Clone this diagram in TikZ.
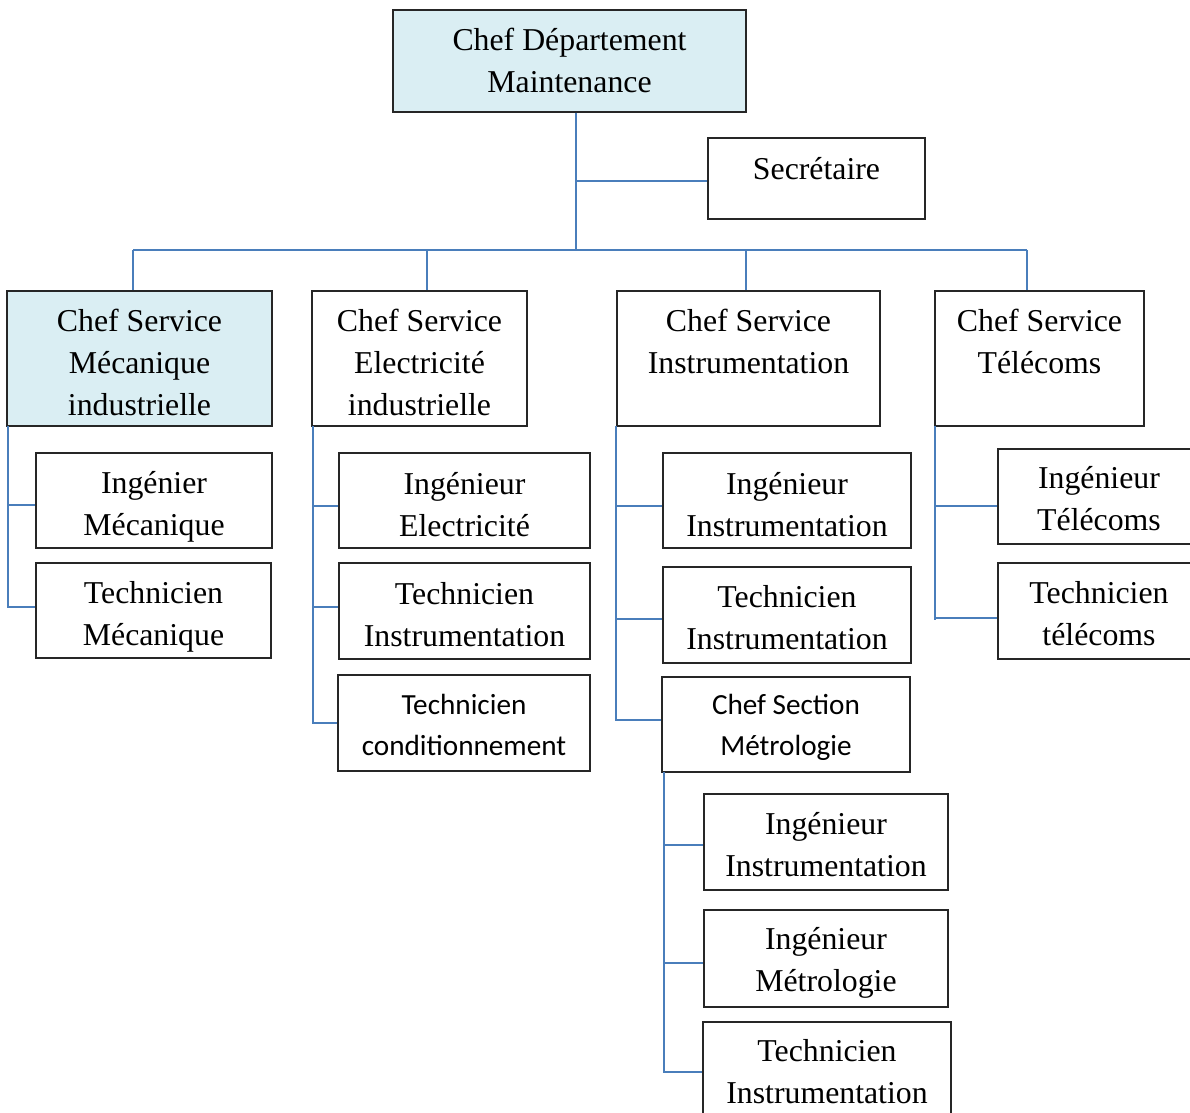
\documentclass[tikz,border=0pt]{standalone}
\usepackage{fontspec}
\setmainfont{Liberation Serif}
\newfontfamily\calibri{Carlito}
\usetikzlibrary{fit}

\definecolor{boxfill}{HTML}{DAEEF3}
\definecolor{linkblue}{HTML}{4A7EBB}
\definecolor{boxline}{HTML}{262626}

\tikzset{
  orgbox/.style={draw=boxline, line width=0.6pt, inner sep=0pt, rectangle},
  shadedbox/.style={orgbox, fill=boxfill},
  serifcap/.style={anchor=north, align=center, inner sep=0pt, yshift=-0.75pt,
    font=\fontsize{15.9}{21}\selectfont},
  sanscap/.style={anchor=north, align=center, inner sep=0pt, yshift=-0.75pt,
    font=\calibri\fontsize{14.6}{20.5}\selectfont},
  link/.style={draw=linkblue, line width=1.1pt},
}

% box from its top-left and bottom-right corners (pixel-like units)
\newcommand\orgnode[6]{\node[#6, fit={(#2,#3) (#4,#5)}] (#1) {};}

\begin{document}
\begin{tikzpicture}[x=0.5pt, y=-0.5pt]
\useasboundingbox (0,0) rectangle (1190,1113);

% ---- boxes ----
\orgnode{dep}{393}{10}{746}{112}{shadedbox}
\orgnode{sec}{708}{138}{925}{219}{orgbox}

\orgnode{csm}{7}{291}{272}{426}{shadedbox}
\orgnode{im}{36}{453}{272}{548}{orgbox}
\orgnode{tm}{36}{563}{271}{658}{orgbox}

\orgnode{cse}{312}{291}{527}{426}{orgbox}
\orgnode{ie}{339}{453}{590}{548}{orgbox}
\orgnode{tie}{339}{563}{590}{659}{orgbox}
\orgnode{tc}{338}{675}{590}{771}{orgbox}

\orgnode{csi}{617}{291}{880}{426}{orgbox}
\orgnode{ii}{663}{453}{911}{548}{orgbox}
\orgnode{tii}{663}{567}{911}{663}{orgbox}
\orgnode{sect}{662}{677}{910}{772}{orgbox}
\orgnode{mi}{704}{794}{948}{890}{orgbox}
\orgnode{mm}{704}{910}{948}{1007}{orgbox}
\orgnode{mt}{703}{1022}{951}{1125}{orgbox}

\orgnode{cst}{935}{291}{1144}{426}{orgbox}
\orgnode{it}{998}{449}{1200}{544}{orgbox}
\orgnode{tt}{998}{563}{1200}{659}{orgbox}

% ---- captions (placed by the baseline of their first line) ----
\node[serifcap] (dep-t) at (569.5,19.6) {\strut Chef Département\\Maintenance};
\node[serifcap] (sec-t) at (816.5,148.6) {\strut Secrétaire};

\node[serifcap] (csm-t) at (139.5,300.6) {\strut Chef Service\\Mécanique\\industrielle};
\node[serifcap] (im-t) at (154,462.6) {\strut Ingénier\\Mécanique};
\node[serifcap] (tm-t) at (153.5,572.6) {\strut Technicien\\Mécanique};

\node[serifcap] (cse-t) at (419.5,300.6) {\strut Chef Service\\Electricité\\industrielle};
\node[serifcap] (ie-t) at (464.5,463.6) {\strut Ingénieur\\Electricité};
\node[serifcap] (tie-t) at (464.5,573.6) {\strut Technicien\\Instrumentation};
\node[sanscap] (tc-t) at (464,684.3) {\strut Technicien\\conditionnement};

\node[serifcap] (csi-t) at (748.5,300.6) {\strut Chef Service\\Instrumentation};
\node[serifcap] (ii-t) at (787,463.6) {\strut Ingénieur\\Instrumentation};
\node[serifcap] (tii-t) at (787,576.6) {\strut Technicien\\Instrumentation};
\node[sanscap] (sect-t) at (786,684.3) {\strut Chef Section\\Métrologie};
\node[serifcap] (mi-t) at (826,803.6) {\strut Ingénieur\\Instrumentation};
\node[serifcap] (mm-t) at (826,918.6) {\strut Ingénieur\\Métrologie};
\node[serifcap] (mt-t) at (827,1030.6) {\strut Technicien\\Instrumentation};

\node[serifcap] (cst-t) at (1039.5,300.6) {\strut Chef Service\\Télécoms};
\node[serifcap] (it-t) at (1099,457.6) {\strut Ingénieur\\Télécoms};
\node[serifcap] (tt-t) at (1099,572.6) {\strut Technicien\\télécoms};

% ---- top level links ----
\coordinate (hub) at (576,250);
\coordinate (secJ) at (576,181);
\draw[link] (dep.south -| hub) -- (hub);
\draw[link] (secJ) -- (secJ -| sec.west);

\coordinate (busL) at (133,250);
\coordinate (busE) at (427,250);
\coordinate (busI) at (746,250);
\coordinate (busR) at (1027,250);
\draw[link] (busL) -- (busR);
\draw[link] (busL) -- (busL |- csm.north);
\draw[link] (busE) -- (busE |- cse.north);
\draw[link] (busI) -- (busI |- csi.north);
\draw[link] (busR) -- (busR |- cst.north);

% ---- mechanical service ----
\coordinate (mA) at (8,426);
\coordinate (mB) at (8,505);
\coordinate (mC) at (8,607);
\draw[link] (mA) -- (mC) -- (mC -| tm.west);
\draw[link] (mB) -- (mB -| im.west);

% ---- electrical service ----
\coordinate (eA) at (313,426);
\coordinate (eB) at (313,506);
\coordinate (eC) at (313,607);
\coordinate (eD) at (313,723);
\draw[link] (eA) -- (eD) -- (eD -| tc.west);
\draw[link] (eB) -- (eB -| ie.west);
\draw[link] (eC) -- (eC -| tie.west);

% ---- instrumentation service ----
\coordinate (iA) at (616,426);
\coordinate (iB) at (616,506);
\coordinate (iC) at (616,619);
\coordinate (iD) at (616,720);
\draw[link] (iA) -- (iD) -- (iD -| sect.west);
\draw[link] (iB) -- (iB -| ii.west);
\draw[link] (iC) -- (iC -| tii.west);

% ---- metrology section ----
\coordinate (sA) at (664,772);
\coordinate (sB) at (664,845);
\coordinate (sC) at (664,963);
\coordinate (sD) at (664,1072);
\draw[link] (sA) -- (sD) -- (sD -| mt.west);
\draw[link] (sB) -- (sB -| mi.west);
\draw[link] (sC) -- (sC -| mm.west);

% ---- telecom service ----
\coordinate (tA) at (935,426);
\coordinate (tB) at (935,506);
\coordinate (tC) at (935,618);
\coordinate (tD) at (935,620);
\draw[link] (tA) -- (tD);
\draw[link] (tB) -- (tB -| it.west);
\draw[link] (tC) -- (tC -| tt.west);
\end{tikzpicture}
\end{document}
